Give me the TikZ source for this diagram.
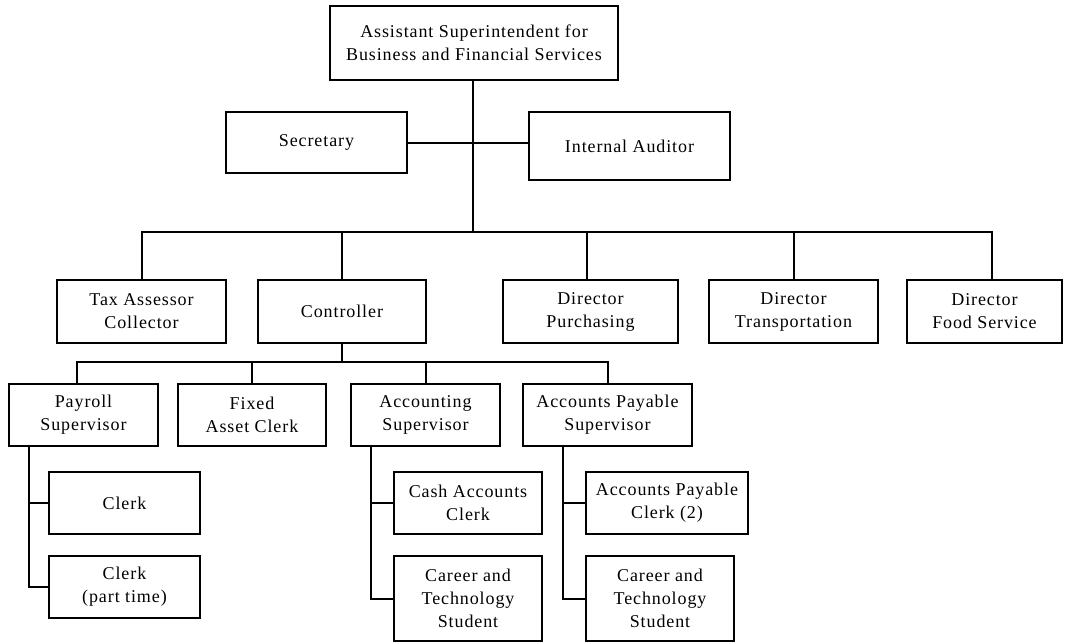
\documentclass[tikz,border=0pt]{standalone}
\usepackage{fontspec}
\setmainfont{Liberation Serif}[LetterSpace=5]
\begin{document}
\begin{tikzpicture}[x=1pt,y=-1pt,
  unit/.style={draw, line width=2pt, inner sep=0pt, align=center,
    font=\fontsize{18}{23}\selectfont},
  link/.style={line width=2pt}]
\useasboundingbox (0,0) rectangle (1066,643);
% box(name, left, top, right, bottom, text)
\newcommand\orgbox[6]{%
  \node[unit, minimum width={#4-#2}, minimum height={#5-#3}]
    (#1) at ({(#2+#4)/2},{(#3+#5)/2}) {#6};}
% top level
\orgbox{top}{330}{6}{618}{80}{Assistant Superintendent for\\Business and Financial Services}
\orgbox{sec}{226}{112}{407}{173}{Secretary}
\orgbox{aud}{529}{112}{730}{180}{Internal Auditor}
% departments
\orgbox{tax}{57}{280}{226}{343}{Tax Assessor\\Collector}
\orgbox{ctrl}{258}{280}{426}{343}{Controller}
\orgbox{pur}{503}{280}{678}{343}{Director\\Purchasing}
\orgbox{trans}{709}{280}{878}{343}{Director\\Transportation}
\orgbox{food}{907}{280}{1062}{343}{Director\\Food Service}
% controller's office
\orgbox{pay}{9}{384}{158}{446}{Payroll\\Supervisor}
\orgbox{fixed}{178}{384}{326}{446}{Fixed\\Asset Clerk}
\orgbox{acct}{351}{384}{500}{446}{Accounting\\Supervisor}
\orgbox{aps}{523}{384}{692}{446}{Accounts Payable\\Supervisor}
% staff
\orgbox{clerkA}{49}{472}{200}{534}{Clerk}
\orgbox{clerkB}{49}{556}{200}{618}{Clerk\\(part time)}
\orgbox{cash}{394}{472}{542}{534}{Cash Accounts\\Clerk}
\orgbox{ctsA}{394}{556}{542}{641}{Career and\\Technology\\Student}
\orgbox{apc}{586}{472}{748}{534}{Accounts Payable\\Clerk (2)}
\orgbox{ctsB}{586}{556}{734}{641}{Career and\\Technology\\Student}
% bus lines
\coordinate (bus) at (473,232);
\coordinate (cbus) at (342,362);
\draw[link] (bus |- top.south) -- (bus);
\draw[link] (sec.east) -- (sec.east -| aud.west);
\draw[link] (tax.north) |- (bus) -| ([xshift=7pt]food.north);
\draw[link] (ctrl.north) -- (ctrl.north |- bus);
\draw[link] ([xshift=-4pt]pur.north) -- ([xshift=-4pt]pur.north |- bus);
\draw[link] (trans.north) -- (trans.north |- bus);
\draw[link] (ctrl.south) -- (cbus);
\draw[link] ([xshift=-7pt]pay.north) |- (cbus) -| (aps.north);
\foreach \n in {fixed,acct}
  \draw[link] (\n.north) -- (\n.north |- cbus);
% staff branches
\draw[link] ([xshift=21pt]pay.south west) |- (clerkB.west);
\draw[link] ([xshift=21pt]pay.south west |- clerkA.west) -- (clerkA.west);
\draw[link] ([xshift=21pt]acct.south west) |- (ctsA.west);
\draw[link] ([xshift=21pt]acct.south west |- cash.west) -- (cash.west);
\draw[link] ([xshift=41pt]aps.south west) |- (ctsB.west);
\draw[link] ([xshift=41pt]aps.south west |- apc.west) -- (apc.west);
\end{tikzpicture}
\end{document}
